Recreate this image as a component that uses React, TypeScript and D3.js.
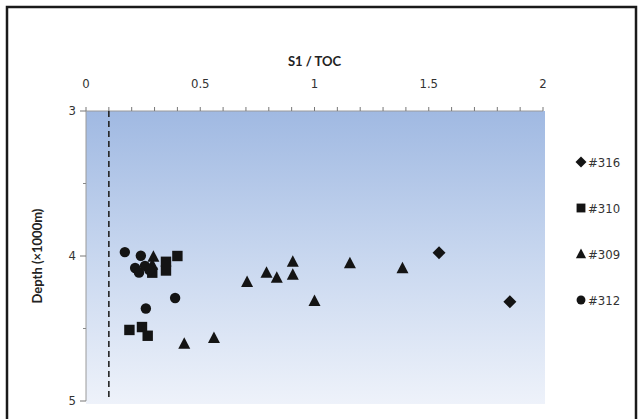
import React from "react";
import * as d3 from "d3";

const series316 = [
  { x: 1.545, d: 3.977 },
  { x: 1.855, d: 4.315 },
];
const series310 = [
  { x: 0.4, d: 4.0 },
  { x: 0.35, d: 4.04 },
  { x: 0.35, d: 4.1 },
  { x: 0.29, d: 4.115 },
  { x: 0.19, d: 4.51 },
  { x: 0.245, d: 4.49 },
  { x: 0.27, d: 4.55 },
];
const series309 = [
  { x: 0.295, d: 4.005 },
  { x: 0.29, d: 4.06 },
  { x: 0.705, d: 4.18 },
  { x: 0.79, d: 4.115 },
  { x: 0.835, d: 4.15 },
  { x: 0.905, d: 4.04 },
  { x: 0.905, d: 4.13 },
  { x: 1.0, d: 4.31 },
  { x: 1.155, d: 4.05 },
  { x: 1.385, d: 4.085 },
  { x: 0.43, d: 4.605 },
  { x: 0.56, d: 4.565 },
];
const series312 = [
  { x: 0.17, d: 3.973 },
  { x: 0.24, d: 3.998 },
  { x: 0.215, d: 4.083 },
  { x: 0.232, d: 4.115 },
  { x: 0.258, d: 4.068 },
  { x: 0.277, d: 4.097 },
  { x: 0.39, d: 4.29 },
  { x: 0.262, d: 4.362 },
];
const legendLabels = ["#316", "#310", "#309", "#312"];
const xTicks = [0, 0.5, 1, 1.5, 2];
const yTicks = [3, 4, 5];
const xTitle = "S1 / TOC";
const yTitle = "Depth (×1000m)";
const cutoff = 0.1;

const W = 643;
const H = 419;
const L = 86, R = 543, T = 111, B = 401;

type Shape = "diamond" | "square" | "triangle" | "circle";

function Marker({ shape, x, y, s = 1 }: { shape: Shape; x: number; y: number; s?: number }) {
  const fill = "#141414";
  if (shape === "circle") return <circle cx={x} cy={y} r={5.2 * s} fill={fill} />;
  if (shape === "square")
    return <rect x={x - 5.2 * s} y={y - 5.2 * s} width={10.4 * s} height={10.4 * s} fill={fill} />;
  if (shape === "triangle")
    return (
      <path
        d={`M${x},${y - 6.5 * s} L${x + 6 * s},${y + 5 * s} L${x - 6 * s},${y + 5 * s} Z`}
        fill={fill}
      />
    );
  return (
    <path
      d={`M${x},${y - 6.5 * s} L${x + 6.5 * s},${y} L${x},${y + 6.5 * s} L${x - 6.5 * s},${y} Z`}
      fill={fill}
    />
  );
}

export default function App() {
  const xs = d3.scaleLinear().domain([0, 2]).range([L, R]);
  const ys = d3.scaleLinear().domain([3, 5]).range([T, B]);
  const minorX = d3.range(0, 2.0001, 0.1);
  const minorY = [3.5, 4.5];
  const groups: { shape: Shape; data: { x: number; d: number }[] }[] = [
    { shape: "diamond", data: series316 },
    { shape: "square", data: series310 },
    { shape: "triangle", data: series309 },
    { shape: "circle", data: series312 },
  ];
  const font = "'Liberation Sans Narrow', 'DejaVu Sans Condensed', 'Liberation Sans', sans-serif";
  return (
    <div style={{ position: "absolute", left: 0, top: 0 }}>
      <svg width={W} height={H} style={{ display: "block" }}>
        <defs>
          <linearGradient id="bg" x1="0" y1="0" x2="0" y2="1">
            <stop offset="0" stopColor="#a0b9e2" />
            <stop offset="0.5" stopColor="#c8d7ef" />
            <stop offset="1" stopColor="#eef2fa" />
          </linearGradient>
        </defs>
        <rect x={0} y={0} width={W} height={H} fill="#fff" />
        <rect x={7} y={7} width={629} height={420} fill="none" stroke="#1a1a1a" strokeWidth={2.5} />
        <rect x={L} y={T} width={R - L + 2} height={B - T + 3} fill="url(#bg)" />
        {/* top axis */}
        <line x1={L} x2={R} y1={T} y2={T} stroke="#9a9a9a" />
        {minorX.map((v, i) => (
          <line key={"mx" + i} x1={xs(v)} x2={xs(v)} y1={T - 4} y2={T} stroke="#777" />
        ))}
        {xTicks.map((v) => (
          <text key={"xt" + v} x={xs(v)} y={88} textAnchor="middle" fontFamily={font} fontSize={13} fill="#333">
            {v}
          </text>
        ))}
        <text x={xs(1)} y={66} textAnchor="middle" fontFamily="Lato, 'Open Sans', sans-serif" fontWeight={700} fontSize={13} fill="#222">
          {xTitle}
        </text>
        {/* left axis */}
        <line x1={L} x2={L} y1={T} y2={B} stroke="#9a9a9a" />
        {yTicks.map((v) => (
          <g key={"yt" + v}>
            <line x1={L - 6} x2={L} y1={ys(v)} y2={ys(v)} stroke="#777" />
            <text x={76} y={ys(v) + 4} textAnchor="end" fontFamily={font} fontSize={13} fill="#333">
              {v}
            </text>
          </g>
        ))}
        {minorY.map((v) => (
          <line key={"my" + v} x1={L - 3} x2={L} y1={ys(v)} y2={ys(v)} stroke="#888" />
        ))}
        <text
          transform={`translate(42,${(T + B) / 2}) rotate(-90)`}
          textAnchor="middle"
          fontFamily="Lato, 'Open Sans', sans-serif"
          fontWeight={700}
          fontSize={13}
          fill="#222"
        >
          {yTitle}
        </text>
        {/* cutoff line */}
        <line x1={xs(cutoff)} x2={xs(cutoff)} y1={T} y2={B} stroke="#222" strokeWidth={1.6} strokeDasharray="6,4" />
        {/* points */}
        {groups.map((g, gi) =>
          g.data.map((p, i) => <Marker key={gi + "-" + i} shape={g.shape} x={xs(p.x)} y={ys(p.d)} />)
        )}
        {/* legend */}
        {groups.map((g, i) => (
          <g key={"lg" + i}>
            <Marker shape={g.shape} x={581} y={162 + i * 46} s={0.85} />
            <text x={588} y={162 + i * 46 + 5} fontFamily={font} fontSize={13} fill="#333">
              {legendLabels[i]}
            </text>
          </g>
        ))}
      </svg>
    </div>
  );
}
